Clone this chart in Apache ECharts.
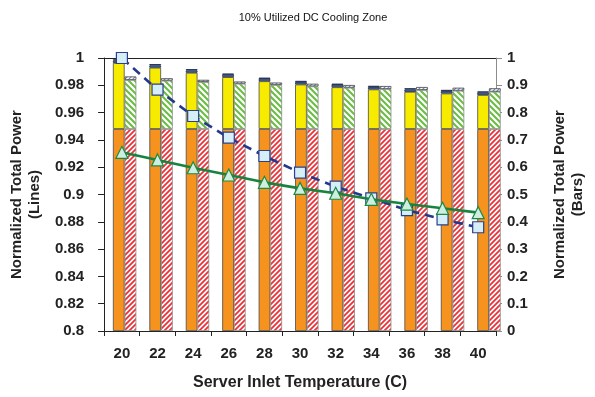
<!DOCTYPE html>
<html>
<head>
<meta charset="utf-8">
<script src="https://cdn.jsdelivr.net/npm/echarts@6/dist/echarts.min.js"></script>
<style>
  html, body { margin: 0; padding: 0; background: #fff; }
  #chart { width: 595px; height: 397px; }
</style>
</head>
<body>
<div id="chart"></div>
<script>
// Server inlet temperatures (C)
const temps = ['20', '22', '24', '26', '28', '30', '32', '34', '36', '38', '40'];

// Line series, left axis (normalized total power)
const powerSquares   = [1.000, 0.9768, 0.9575, 0.9416, 0.9282, 0.9160, 0.9057, 0.8972, 0.8886, 0.8818, 0.8760];
const powerTriangles = [0.9309, 0.9253, 0.9196, 0.9143, 0.9089, 0.9045, 0.9009, 0.8965, 0.8930, 0.8899, 0.8867];

// Left stacked bar components, right axis
const leftBase   = [0.74, 0.74, 0.74, 0.74, 0.74, 0.74, 0.74, 0.74, 0.74, 0.74, 0.74];
const leftMid    = [0.242, 0.2245, 0.206, 0.190, 0.175, 0.163, 0.153, 0.145, 0.136, 0.130, 0.1245];
const leftUpper  = [0.0085, 0.0085, 0.0085, 0.0085, 0.0085, 0.0085, 0.0085, 0.0085, 0.0085, 0.0085, 0.0085];
const leftTop    = [0.0047, 0.0047, 0.0047, 0.0047, 0.0047, 0.0047, 0.0047, 0.0047, 0.0047, 0.0047, 0.0047];

// Right stacked bar components, right axis
const rightBase  = [0.74, 0.74, 0.74, 0.74, 0.74, 0.74, 0.74, 0.74, 0.74, 0.74, 0.74];
const rightMid   = [0.1794, 0.1769, 0.1721, 0.1659, 0.1611, 0.1563, 0.1512, 0.1464, 0.1428, 0.1402, 0.1366];
const rightTop   = [0.013, 0.009, 0.008, 0.008, 0.009, 0.0095, 0.0099, 0.011, 0.011, 0.011, 0.0125];

// Diagonal hatch fill as a repeating canvas pattern
function hatch(fg, bg, dir, size, lw) {
  const c = document.createElement('canvas');
  c.width = c.height = size;
  const g = c.getContext('2d');
  g.fillStyle = bg;
  g.fillRect(0, 0, size, size);
  g.strokeStyle = fg;
  g.lineWidth = lw;
  g.beginPath();
  if (dir === '/') {
    g.moveTo(-1, 1); g.lineTo(1, -1);
    g.moveTo(0, size); g.lineTo(size, 0);
    g.moveTo(size - 1, size + 1); g.lineTo(size + 1, size - 1);
  } else {
    g.moveTo(-1, size - 1); g.lineTo(1, size + 1);
    g.moveTo(0, 0); g.lineTo(size, size);
    g.moveTo(size - 1, -1); g.lineTo(size + 1, 1);
  }
  g.stroke();
  return { image: c, repeat: 'repeat' };
}

const FONT = 'Liberation Sans';
const barW = 11.7;

const chart = echarts.init(document.getElementById('chart'), null, { renderer: 'canvas' });

const barCommon = (name, stack, data, color, border) => ({
  name, type: 'bar', stack, data,
  xAxisIndex: 2, yAxisIndex: 2,
  barWidth: barW, barGap: '0%',
  itemStyle: { color, borderColor: border, borderWidth: 0.8 },
  z: 2, silent: true
});

chart.setOption({
  animation: false,
  title: {
    text: '10% Utilized DC Cooling Zone',
    left: 308, top: 7, textAlign: 'center',
    textStyle: { fontFamily: FONT, fontSize: 11, fontWeight: 'normal', color: '#111' }
  },
  grid: [
    { left: 101, right: 82, top: 58, bottom: 66 },
    { left: 106.4, right: 87.8, top: 58, bottom: 66 }
  ],
  xAxis: [
    {
      type: 'category', gridIndex: 0, data: temps, boundaryGap: true,
      axisLine: { lineStyle: { color: '#222', width: 1 } },
      axisTick: { show: true, interval: 0, length: 5, lineStyle: { color: '#222' } },
      axisLabel: { interval: 0, margin: 15, fontFamily: FONT, fontSize: 15, fontWeight: 'bold', color: '#222' },
      name: 'Server Inlet Temperature (C)', nameLocation: 'middle', nameGap: 44,
      nameTextStyle: { fontFamily: FONT, fontSize: 16, fontWeight: 'bold', color: '#222' }
    },
    {
      type: 'category', gridIndex: 0, data: temps, position: 'top',
      axisLine: { show: true, lineStyle: { color: '#222', width: 1 } },
      axisTick: { show: false }, axisLabel: { show: false }
    },
    {
      type: 'category', gridIndex: 1, data: temps, show: false
    }
  ],
  yAxis: [
    {
      type: 'value', gridIndex: 0, position: 'left',
      min: 0.8, max: 1, interval: 0.02,
      axisLine: { show: true, lineStyle: { color: '#222', width: 1 } },
      axisTick: { show: true, length: 6, lineStyle: { color: '#222' } },
      splitLine: { show: false },
      axisLabel: {
        margin: 20, fontFamily: FONT, fontSize: 15, fontWeight: 'bold', color: '#222',
        formatter: v => String(+v.toFixed(2))
      },
      name: 'Normalized Total Power\n(Lines)', nameLocation: 'middle', nameGap: 47, nameRotate: 90,
      nameTextStyle: { fontFamily: FONT, fontSize: 15, fontWeight: 'bold', color: '#222', lineHeight: 18 }
    },
    {
      type: 'value', gridIndex: 0, position: 'right',
      min: 0, max: 1, interval: 0.1,
      axisLine: { show: true, lineStyle: { color: '#8c8c8c', width: 1 } },
      axisTick: { show: true, length: 6, lineStyle: { color: '#8c8c8c' } },
      splitLine: { show: false },
      axisLabel: {
        margin: 11, fontFamily: FONT, fontSize: 15, fontWeight: 'bold', color: '#222',
        formatter: v => String(+v.toFixed(1))
      },
      name: 'Normalized Total Power\n(Bars)', nameLocation: 'middle', nameGap: 55, nameRotate: 90,
      nameTextStyle: { fontFamily: FONT, fontSize: 15, fontWeight: 'bold', color: '#222', lineHeight: 18 }
    },
    {
      type: 'value', gridIndex: 1, min: 0, max: 1, show: false
    }
  ],
  series: [
    barCommon('L-base', 'L', leftBase, '#f6921e', '#4a4a4a'),
    barCommon('L-mid', 'L', leftMid, '#f7eb00', '#4a4a4a'),
    barCommon('L-upper', 'L', leftUpper, '#3b7ad0', '#2a2a2a'),
    barCommon('L-top', 'L', leftTop, '#1b2a5c', '#1b2a5c'),
    barCommon('R-base', 'R', rightBase, hatch('#ec3136', '#ffffff', '/', 5, 1.8), '#8a8a8a'),
    barCommon('R-mid', 'R', rightMid, hatch('#6cbd45', '#ffffff', '\\', 6, 2.1), '#8a8a8a'),
    barCommon('R-top', 'R', rightTop, hatch('#6d86c0', '#ffffff', '/', 4, 1.2), '#444'),
    {
      name: 'squares', type: 'line', xAxisIndex: 0, yAxisIndex: 0, data: powerSquares,
      symbol: 'rect', symbolSize: 11,
      lineStyle: { color: '#25398a', width: 2.6, type: [9, 6] },
      itemStyle: { color: '#d5eef8', borderColor: '#2b3f8e', borderWidth: 1.2 },
      z: 5, silent: true
    },
    {
      name: 'triangles', type: 'line', xAxisIndex: 0, yAxisIndex: 0, data: powerTriangles,
      symbol: 'triangle', symbolSize: 12,
      lineStyle: { color: '#16843e', width: 2.6 },
      itemStyle: { color: '#cdeee0', borderColor: '#1a8a45', borderWidth: 1.2 },
      z: 6, silent: true
    }
  ]
});
</script>
</body>
</html>
